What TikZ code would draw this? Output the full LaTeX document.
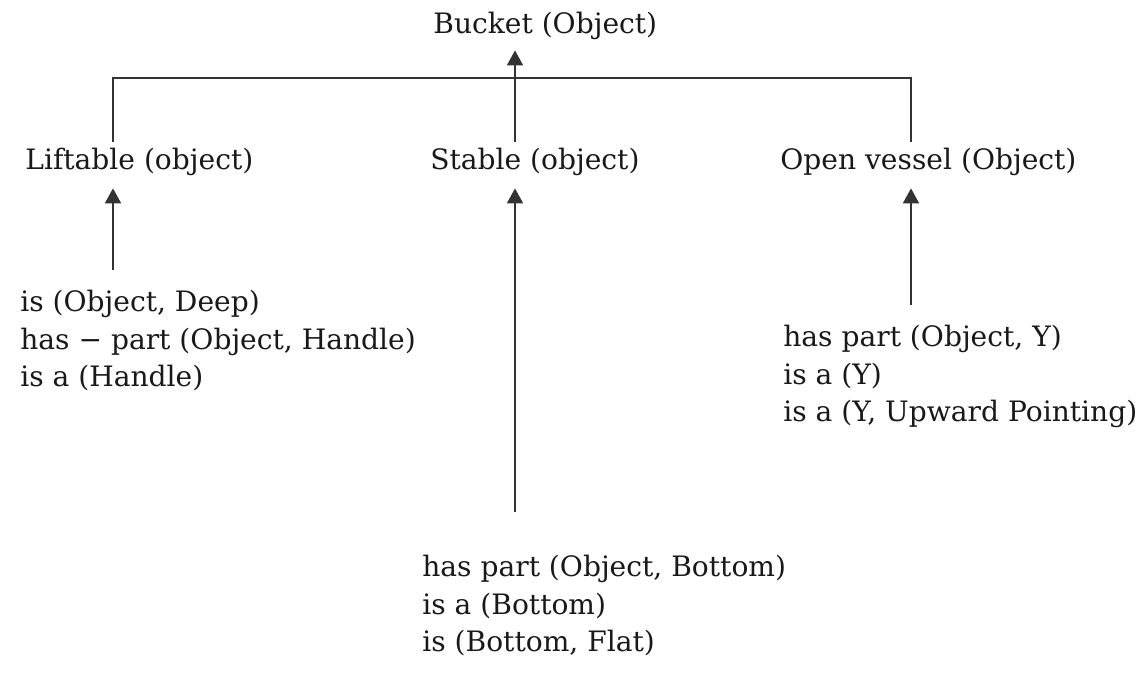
\documentclass[tikz,border=0pt]{standalone}
\usepackage{fontspec}
\setmainfont{DejaVu Serif}
\usetikzlibrary{arrows.meta}
\tikzset{concept/.style={inner sep=0pt, anchor=base west, text height=12pt, text depth=4pt,
    font=\fontsize{16}{21.3}\selectfont, text=black!90},
  facts/.style={inner sep=0pt, anchor=north west, align=left,
    font=\fontsize{16}{21.3}\selectfont, text=black!90},
  link/.style={->, line width=1.1pt, draw=black!80}}

\begin{document}
\begin{tikzpicture}[>={Triangle[length=8.5pt, width=9pt]}]
\useasboundingbox (0,0) rectangle (22.92,-13.7);
% top and second level
\node[concept] (bucket) at (8.66,-0.66) {Bucket (Object)};
\node[concept] (liftable) at (0.5,-3.38) {Liftable (object)};
\node[concept] (stable) at (8.6,-3.38) {Stable (object)};
\node[concept] (vessel) at (15.6,-3.38) {Open vessel (Object)};
% properties
\node[facts] (handle) at (0.4,-5.8) {is (Object, Deep)\\has − part (Object, Handle)\\is a (Handle)};
\node[facts] (pointing) at (15.66,-6.5) {has part (Object, Y)\\is a (Y)\\is a (Y, Upward Pointing)};
\node[facts] (bottom) at (8.44,-11.1) {has part (Object, Bottom)\\is a (Bottom)\\is (Bottom, Flat)};
\coordinate (barL) at (2.26,-1.56);
\coordinate (barM) at (10.3,-1.56);
\coordinate (barR) at (18.22,-1.56);
\draw[link, -, shorten <=3.4pt, shorten >=3.4pt] (barL |- liftable.north) -- (barL) -- (barR) -- (barR |- vessel.north);
\draw[link, shorten <=3.4pt, shorten >=5.7pt] (barM |- stable.north) -- (barM |- bucket.south);
\draw[link, shorten <=11.4pt, shorten >=6.8pt] (barL |- handle.north) -- (barL |- liftable.south);
\draw[link, shorten <=24.4pt, shorten >=6.8pt] (barM |- bottom.north) -- (barM |- stable.south);
\draw[link, shorten <=11.4pt, shorten >=6.8pt] (barR |- pointing.north) -- (barR |- vessel.south);
\end{tikzpicture}
\end{document}
